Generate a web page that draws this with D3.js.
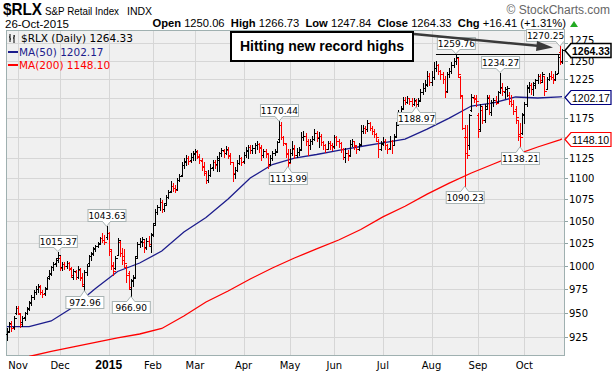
<!DOCTYPE html>
<html><head><meta charset="utf-8">
<script src="https://cdn.jsdelivr.net/npm/d3@7"></script>
<style>body{margin:0;background:#fff}svg{display:block}</style>
</head><body><div id="c"></div>
<script>
// ---------- DATA ----------
const startDate = "2014-10-27", endDate = "2015-10-26";
const holidays = ["2014-11-27","2014-12-25","2015-01-01","2015-01-19","2015-02-16","2015-04-03","2015-05-25","2015-07-03","2015-09-07"];
const opens = [928,931,938,935,950,955,948,940,945,950,955,961,966,972,975,977,972,970,976,989,992,998,1003,1008,1008,998,1002,1000,1003,996,988,993,988,995,988,978,993,1003,1010,1014,1019,1022,1025,1031,1028,1032,1036,1016,1001,997,1012,1026,1014,1010,998,992,975,984,988,1010,1024,1026,1026,1020,1027,1022,1035,1047,1060,1066,1072,1064,1070,1078,1085,1091,1088,1087,1098,1104,1116,1121,1124,1122,1126,1130,1132,1126,1121,1114,1106,1098,1104,1113,1119,1117,1122,1130,1133,1131,1134,1127,1119,1105,1110,1118,1124,1121,1128,1133,1138,1134,1137,1140,1142,1137,1128,1133,1129,1117,1124,1130,1133,1148,1166,1150,1142,1129,1120,1131,1136,1128,1132,1136,1150,1152,1146,1140,1145,1148,1155,1149,1152,1144,1140,1136,1143,1140,1139,1150,1146,1143,1135,1126,1130,1128,1142,1145,1139,1136,1142,1158,1162,1160,1168,1162,1158,1154,1145,1136,1143,1146,1140,1137,1145,1141,1152,1166,1181,1187,1198,1195,1200,1196,1193,1197,1192,1198,1208,1214,1219,1230,1222,1228,1240,1245,1236,1232,1226,1210,1232,1236,1244,1250,1254,1228,1203,1150,1150,1140,1185,1201,1199,1178,1160,1185,1172,1190,1202,1182,1195,1198,1195,1208,1214,1208,1212,1205,1196,1192,1186,1172,1154,1155,1180,1192,1215,1218,1212,1218,1224,1229,1222,1230,1212,1226,1230,1228,1225,1234,1262,1250.06];
const highs = [934,940,941,946,957,957,949,946,951,956,962,968,974,978,980,979,974,977,988,995,1000,1004,1008,1015.37,1010,1004,1004,1005,1004,998,996,995,999,997,992,995,1002,1012,1015,1020,1023,1026,1032,1036,1034,1043.63,1037,1018,1004,1010,1031,1027,1019,1018,1001,994,985,990,1010,1026,1030,1032,1028,1030,1033,1036,1048,1064,1068,1076,1074,1070,1080,1086,1096,1094,1092,1100,1105,1120,1124,1128,1127,1130,1133,1135,1134,1129,1124,1120,1108,1110,1117,1122,1122,1127,1132,1137,1136,1139,1138,1130,1120,1114,1122,1128,1126,1132,1138,1141,1140,1140,1143,1145,1143,1140,1136,1135,1130,1128,1133,1136,1146,1170.44,1169,1152,1143,1135,1135,1146,1140,1137,1138,1157,1158,1156,1148,1148,1152,1160,1158,1157,1154,1146,1142,1146,1145,1143,1153,1152,1148,1144,1137,1137,1134,1147,1148,1146,1141,1143,1165,1166,1164,1172,1170,1164,1160,1156,1148,1145,1150,1148,1142,1152,1147,1154,1170,1185,1190,1202,1202,1203,1201,1200,1201,1199,1200,1212,1220,1224,1237,1233,1236,1249,1250,1246,1238,1235,1230,1235,1240,1248,1254,1259.76,1254,1230,1205,1165,1165,1180,1206,1205,1205,1181,1192,1190,1193,1205,1204,1198,1200,1203,1210,1234.27,1220,1215,1216,1208,1205,1198,1190,1172,1168,1181,1195,1218,1222,1220,1222,1226,1232,1232,1235,1230,1228,1233,1236,1232,1236,1260,1270.25,1266.73];
const lows = [922,930,931,933,948,948,935,936,942,948,953,958,964,969,971,969,966,968,975,985,990,995,1000,1004,995,995,996,997,995,987,985,985,986,984,978,972.96,990,1001,1006,1012,1016,1020,1024,1026,1024,1029,1012,996,990,996,1011,1010,1002,998,982,975,966.90,978,986,1008,1020,1022,1015,1018,1022,1015,1033,1045,1058,1062,1060,1061,1068,1076,1084,1085,1083,1086,1096,1102,1112,1116,1117,1119,1122,1122,1124,1118,1110,1104,1094,1095,1102,1110,1112,1108,1108,1127,1126,1129,1124,1117,1097,1100,1108,1117,1116,1118,1126,1125,1130,1131,1131,1136,1132,1122,1126,1126,1112,1116,1122,1128,1132,1145,1148,1140,1126,1113.99,1120,1128,1125,1126,1128,1134,1147,1141,1128,1136,1142,1147,1146,1138,1141,1136,1132,1135,1136,1134,1137,1141,1138,1132,1123,1120,1122,1127,1139,1136,1131,1134,1141,1155,1156,1158,1159,1154,1150,1146,1126,1134,1140,1136,1130,1135,1130,1140,1150,1165,1176,1186,1192,1194,1192,1190,1191,1188.97,1190,1196,1206,1210,1216,1218,1218,1226,1236,1232,1226,1220,1202,1208,1228,1234,1242,1246,1228,1200,1160,1090.23,1125,1136,1184,1195,1190,1150,1158,1168,1170,1188,1180,1178,1190,1192,1195,1207,1205,1200,1203,1192,1190,1180,1168,1147,1138.21,1154,1168,1190,1208,1206,1205,1214,1220,1220,1222,1204,1212,1224,1225,1220,1224,1234,1246,1247.84];
const closes = [930,939,934,944,955,950,938,944,949,954,960,966,972,975,978,972,969,975,986,991,998,1002,1006,1012,997,1002,1000,1003,997,990,994,987,996,986,980,993,1000,1010,1013,1018,1021,1024,1030,1028,1026,1036,1018,1000,994,1008,1028,1014,1006,1003,990,977,983,986,1008,1024,1027,1029,1019,1027,1024,1034,1045,1060,1066,1072,1064,1068,1078,1084,1090,1088,1086,1098,1102,1116,1120,1124,1121,1126,1129,1133,1127,1122,1115,1108,1098,1104,1112,1120,1116,1124,1130,1134,1131,1135,1128,1120,1106,1110,1118,1124,1120,1128,1134,1138,1134,1137,1140,1142,1138,1128,1133,1130,1116,1124,1130,1132,1144,1166,1150,1143,1130,1118,1130,1137,1128,1132,1134,1150,1152,1146,1140,1145,1148,1155,1150,1152,1144,1140,1136,1143,1140,1138,1150,1146,1143,1136,1126,1130,1127,1142,1145,1140,1136,1140,1158,1162,1160,1168,1162,1158,1154,1150,1136,1142,1146,1140,1136,1145,1140,1150,1165,1180,1186,1198,1195,1200,1196,1193,1198,1192,1197,1208,1214,1218,1230,1222,1228,1240,1245,1236,1232,1226,1208,1232,1236,1244,1250,1255,1232,1205,1162,1130,1128,1178,1202,1200,1196,1158,1190,1172,1186,1200,1182,1195,1198,1194,1208,1215,1210,1212,1214,1196,1193,1184,1176,1152,1150,1178,1192,1214,1218,1212,1220,1224,1229,1224,1232,1210,1226,1230,1228,1224,1232,1255,1247.92,1264.33];
// moving averages, read every 10 trading days (index 0,10,...,250) plus the last day
const maDays = [0,10,20,30,40,50,60,70,80,90,100,110,120,130,140,150,160,170,180,190,200,210,220,230,240,250,251];
const ma50 = [935.4,935.4,941.3,955.8,975.2,993.5,1002.7,1015.9,1037.2,1053.7,1075.2,1100.1,1116.4,1124.4,1128.7,1133.7,1138.6,1143,1147.9,1160.5,1174.5,1190,1194,1201.8,1200.5,1202,1202.17];
const ma200 = [901.1,905.5,910.5,915,919.5,924,928,933.6,946.4,961,972.6,985.4,997.3,1008.2,1018.2,1028.2,1040,1054.4,1066.8,1081,1094.1,1106.2,1117.1,1128.2,1138,1147,1148.10];
const yTicks = [925,950,975,1000,1025,1050,1075,1100,1125,1150,1175,1200,1225,1250,1275];
const yTickLabels = [925,950,975,1000,1025,1050,1075,1100,1125,1175,1225,1250,1275]; // 1150 and 1200 sit under the value flags
const monthLabels = ["Nov","Dec","2015","Feb","Mar","Apr","May","Jun","Jul","Aug","Sep","Oct"];
const callouts = [[23,1015.37,"h"],[35,972.96,"l"],[45,1043.63,"h"],[56,966.90,"l"],[123,1170.44,"h"],[127,1113.99,"l"],[185,1188.97,"l"],[203,1259.76,"h"],[223,1234.27,"h"],[207,1090.23,"l"],[232,1138.21,"l"],[250,1270.25,"h"]];
const flags = [[1264.33,"#000",true],[1202.17,"#000080",false],[1148.10,"#ff0000",false]];
const recordLevel = 1259.76;

// ---------- BUILD DATES ----------
const fmt = d3.timeFormat("%Y-%m-%d");
const dates = [];
for (let d = new Date(startDate+"T12:00:00"); fmt(d) <= endDate; d.setDate(d.getDate()+1)) {
  const wd = d.getDay();
  if (wd === 0 || wd === 6 || holidays.includes(fmt(d))) continue;
  dates.push(fmt(d));
}
const bars = dates.map((d,i)=>({d, i, o:opens[i], h:highs[i], l:lows[i], c:closes[i],
  up: i===0 ? true : closes[i] >= closes[i-1]}));

// ---------- SVG ----------
const W=614,H=374, L=6, R=565, T=30, B=356;
const svg = d3.select("#c").append("svg").attr("width",W).attr("height",H);
const x = d3.scalePoint().domain(dates).range([7,562]);
const y = d3.scaleLog().domain([906.0,1292.9]).range([B,T]);
const F = "DejaVu Sans, Verdana, sans-serif", FA = "Liberation Sans, Arial, sans-serif";

svg.append("rect").attr("x",L).attr("y",T).attr("width",R-L).attr("height",B-T).attr("fill","#f0f0f0");
svg.append("clipPath").attr("id","pc").append("rect").attr("x",L).attr("y",T).attr("width",R-L).attr("height",B-T);

// grid
svg.append("g").selectAll("line").data(yTicks).join("line")
  .attr("x1",L).attr("x2",R).attr("y1",d=>Math.round(y(d))+0.5).attr("y2",d=>Math.round(y(d))+0.5)
  .attr("stroke","#d6d6d6");
const monthStarts = [];
dates.forEach((d,i)=>{ if(i>0 && d.slice(5,7)!==dates[i-1].slice(5,7)) monthStarts.push(d); });
svg.append("g").selectAll("line").data(monthStarts).join("line")
  .attr("x1",d=>Math.round(x(d))+0.5).attr("x2",d=>Math.round(x(d))+0.5).attr("y1",T).attr("y2",B)
  .attr("stroke","#d6d6d6");

// x labels
svg.append("g").selectAll("text").data(monthStarts).join("text")
  .attr("x",d=>x(d)).attr("y",369).attr("text-anchor","middle")
  .attr("font-family",d=>d.slice(5,7)==="01"?FA:F).attr("font-size",d=>d.slice(5,7)==="01"?12:10)
  .attr("font-weight",d=>d.slice(5,7)==="01"?"bold":"normal").attr("fill","#000")
  .text((d,i)=>monthLabels[i]);

// y axis labels
svg.append("g").selectAll("text").data(yTickLabels).join("text")
  .attr("x",569).attr("y",d=>y(d)+(d===1275?1:4)).attr("font-family",F).attr("font-size",10).attr("fill","#000")
  .text(d=>d);
svg.append("g").selectAll("line").data(yTicks).join("line")
  .attr("x1",R).attr("x2",R+3).attr("y1",d=>Math.round(y(d))+0.5).attr("y2",d=>Math.round(y(d))+0.5).attr("stroke","#8fa3a3");

// plot frame
svg.append("rect").attr("x",L+0.5).attr("y",T+0.5).attr("width",R-L-1).attr("height",B-T-1)
  .attr("fill","none").attr("stroke","#9fb0b0");

const pg = svg.append("g").attr("clip-path","url(#pc)");
// moving averages
const maLine = arr => d3.line().x((v,k)=>x(dates[maDays[k]])).y(v=>y(v))(arr);
pg.append("path").attr("d",maLine(ma200)).attr("fill","none").attr("stroke","#ff0000").attr("stroke-width",1.3);
pg.append("path").attr("d",maLine(ma50)).attr("fill","none").attr("stroke","#1c1c8c").attr("stroke-width",1.3);

// OHLC bars
const bg = pg.append("g").attr("shape-rendering","crispEdges");
bars.forEach(b=>{
  const cx = Math.round(x(b.d))+0.5, col = b.up ? "#000" : "#ff0000";
  bg.append("line").attr("x1",cx).attr("x2",cx).attr("y1",y(b.h)).attr("y2",y(b.l)+1).attr("stroke",col);
  bg.append("line").attr("x1",cx-2).attr("x2",cx).attr("y1",Math.round(y(b.o))+0.5).attr("y2",Math.round(y(b.o))+0.5).attr("stroke",col);
  bg.append("line").attr("x1",cx).attr("x2",cx+2).attr("y1",Math.round(y(b.c))+0.5).attr("y2",Math.round(y(b.c))+0.5).attr("stroke",col);
});

// record line
svg.append("line").attr("x1",x(dates[194])).attr("x2",x(dates[251])-2).attr("y1",Math.round(y(recordLevel))+0.5).attr("y2",Math.round(y(recordLevel))+0.5)
  .attr("stroke","#000").attr("stroke-width",1);

// callouts
const cg = svg.append("g");
callouts.forEach(([i,v,t])=>{
  const px = x(dates[i]), py = y(v);
  const label = v.toFixed(2);
  const bw = 38, bh = 12;
  let bx = px - bw/2; bx = Math.max(L+1, Math.min(R-1-bw, bx));
  const by = t==="h" ? py-5-bh : py+5;
  cg.append("rect").attr("x",bx+0.5).attr("y",Math.round(by)+0.5).attr("width",bw).attr("height",bh)
    .attr("fill","#fff").attr("stroke","#a9b4b4");
  const ty = t==="h" ? Math.round(by)+bh+0.5 : Math.round(by)+0.5;
  cg.append("path").attr("d",`M${px-4},${ty} L${px},${py} L${px+4},${ty}`).attr("fill","#fff").attr("stroke","#a9b4b4");
  cg.append("line").attr("x1",px-3.5).attr("x2",px+3.5).attr("y1",ty).attr("y2",ty).attr("stroke","#fff");
  cg.append("text").attr("x",bx+bw/2+0.5).attr("y",Math.round(by)+10).attr("text-anchor","middle")
    .attr("font-family",F).attr("font-size",9).attr("fill","#000").text(label);
});

// annotation
svg.append("rect").attr("x",231).attr("y",32).attr("width",182).attr("height",29).attr("fill","#fff").attr("stroke","#000").attr("stroke-width",2);
svg.append("text").attr("x",322).attr("y",51).attr("text-anchor","middle").attr("font-family",FA).attr("font-weight","bold").attr("font-size",14).text("Hitting new record highs");
svg.append("line").attr("x1",414).attr("y1",34).attr("x2",540).attr("y2",46).attr("stroke","#3a3a3a").attr("stroke-width",2.5);
svg.append("path").attr("d","M537,41 L553,47.5 L536,51 Z").attr("fill","#3a3a3a");

// legend
const lg = svg.append("g").attr("font-family",F).attr("font-size",10.5);
const gx = 9, gy = 34;
lg.append("path").attr("d",`M${gx+1},${gy} V${gy+8} M${gx},${gy+3} H${gx+1} M${gx+1},${gy+5} H${gx+2} M${gx+5},${gy+1} V${gy+9} M${gx+4},${gy+4} H${gx+5} M${gx+5},${gy+2} H${gx+6}`).attr("stroke","#000").attr("fill","none");
lg.append("text").attr("x",21).attr("y",42).text("$RLX (Daily) 1264.33");
lg.append("line").attr("x1",8).attr("x2",18).attr("y1",52).attr("y2",52).attr("stroke","#1c1c8c").attr("stroke-width",2);
lg.append("text").attr("x",19).attr("y",56).attr("fill","#1c1c8c").text("MA(50) 1202.17");
lg.append("line").attr("x1",8).attr("x2",18).attr("y1",65).attr("y2",65).attr("stroke","#ff0000").attr("stroke-width",2);
lg.append("text").attr("x",19).attr("y",69).attr("fill","#ff0000").text("MA(200) 1148.10");

// flags
flags.forEach(([v,col,bold])=>{
  const py = Math.round(y(v))+0.5;
  svg.append("path").attr("d",`M${R},${py} L${R+6},${py-7} H611 V${py+7} H${R+6} Z`).attr("fill","#fff").attr("stroke",col).attr("stroke-width",bold?1.5:1.2);
  svg.append("text").attr("x",R+7).attr("y",py+4).attr("font-family",FA).attr("font-size",10.5).attr("font-weight",bold?"bold":"normal").attr("fill","#000").text(v.toFixed(2));
});

// header
svg.append("text").attr("x",3).attr("y",15).attr("font-family",FA).attr("font-weight","bold").attr("font-size",16.5)
  .attr("textLength",39).attr("lengthAdjust","spacingAndGlyphs").text("$RLX");
svg.append("text").attr("x",45).attr("y",15).attr("font-family",FA).attr("font-size",11)
  .attr("textLength",74).attr("lengthAdjust","spacingAndGlyphs").text("S&P Retail Index");
svg.append("text").attr("x",127).attr("y",15).attr("font-family",FA).attr("font-size",10.5).text("INDX");
svg.append("text").attr("x",610).attr("y",14).attr("text-anchor","end").attr("font-family",FA).attr("font-size",12).attr("fill","#666").text("© StockCharts.com");
svg.append("text").attr("x",5).attr("y",27.5).attr("font-family",FA).attr("font-size",11.5).text("26-Oct-2015");
const hdr = svg.append("text").attr("x",566).attr("y",27).attr("text-anchor","end").attr("font-family",FA).attr("font-size",11.2).attr("style","white-space:pre");
[["Open",1],[" 1250.06  ",0],["High",1],[" 1266.73  ",0],["Low",1],[" 1247.84  ",0],["Close",1],[" 1264.33  ",0],["Chg",1],[" +16.41 (+1.31%)",0]]
  .forEach(([t,b])=>hdr.append("tspan").attr("font-weight",b?"bold":"normal").text(t));
svg.append("path").attr("d","M570,27 L574,21 L578,27 Z").attr("fill","#22aa22");
</script></body></html>
